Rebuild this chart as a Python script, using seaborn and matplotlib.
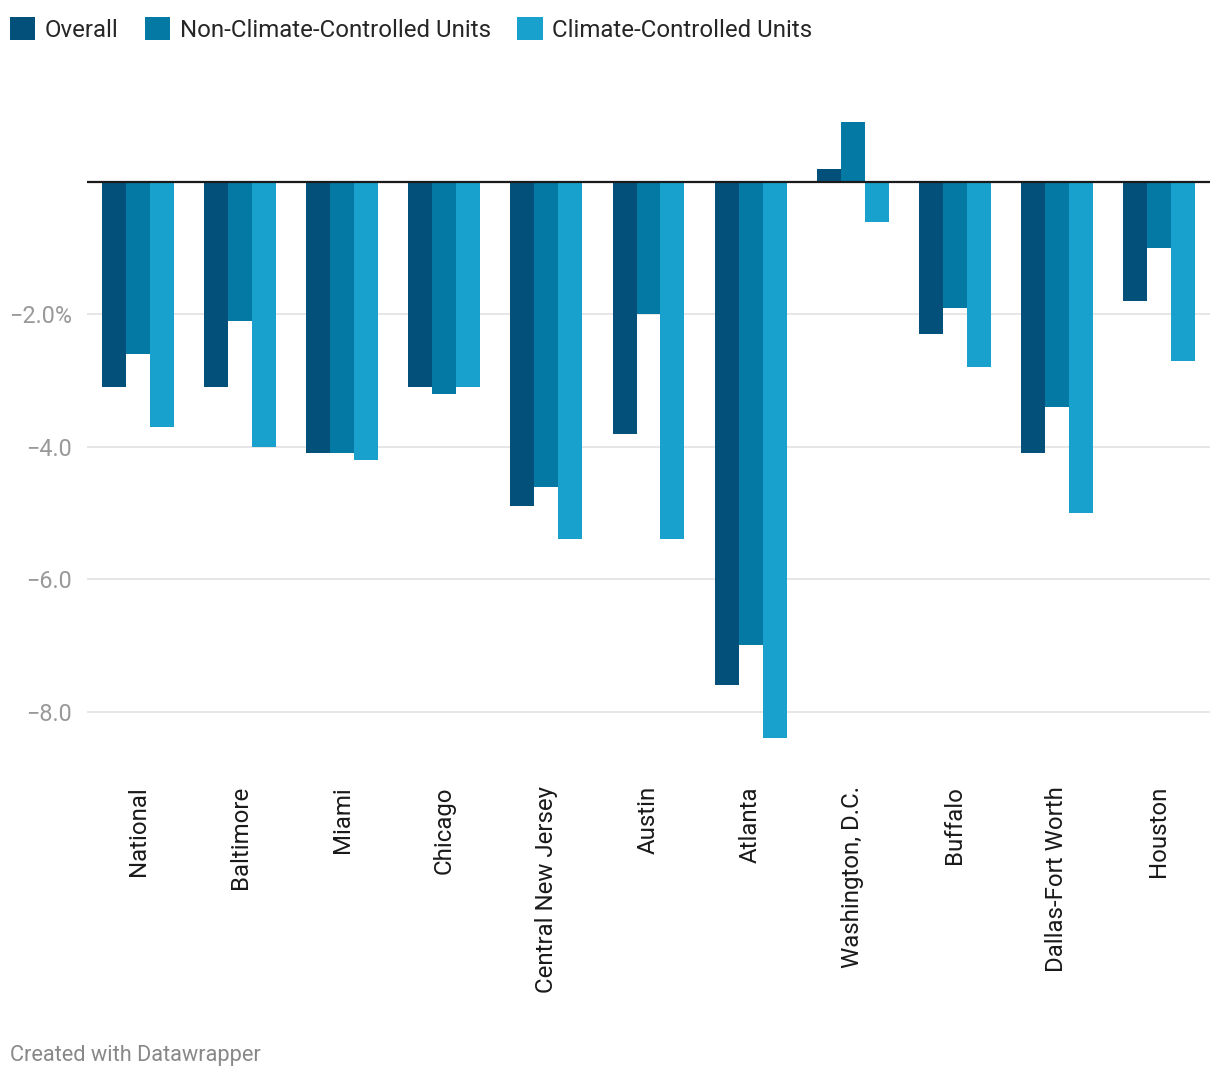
import matplotlib
matplotlib.use("Agg")
import matplotlib.pyplot as plt
import seaborn as sns
import pandas as pd
from matplotlib.patches import Patch

categories = ["National", "Baltimore", "Miami", "Chicago", "Central New Jersey", "Austin",
              "Atlanta", "Washington, D.C.", "Buffalo", "Dallas-Fort Worth", "Houston"]
overall = [-3.1, -3.1, -4.1, -3.1, -4.9, -3.8, -7.6, 0.2, -2.3, -4.1, -1.8]
non_climate = [-2.6, -2.1, -4.1, -3.2, -4.6, -2.0, -7.0, 0.9, -1.9, -3.4, -1.0]
climate = [-3.7, -4.0, -4.2, -3.1, -5.4, -5.4, -8.4, -0.6, -2.8, -5.0, -2.7]
series_names = ["Overall", "Non-Climate-Controlled Units", "Climate-Controlled Units"]
colors = ["#03517a", "#0479a4", "#18a1cd"]
ytick_vals = [-2, -4, -6, -8]
ytick_labels = ["\u22122.0%", "\u22124.0", "\u22126.0", "\u22128.0"]

rows = []
for name, vals in zip(series_names, [overall, non_climate, climate]):
    for c, v in zip(categories, vals):
        rows.append({"city": c, "series": name, "value": v})
df = pd.DataFrame(rows)

sns.set_style("white")
plt.rcParams["font.family"] = ["Roboto", "DejaVu Sans"]

fig = plt.figure(figsize=(12.2, 10.8), dpi=100)
ax = fig.add_axes([87/1220, 1 - 775/1080, (1210-87)/1220, (775-60)/1080])

sns.barplot(data=df, x="city", y="value", hue="series", order=categories,
            hue_order=series_names, palette=colors, saturation=1, width=0.705,
            dodge=True, gap=0, ax=ax, legend=False, errorbar=None,
            linewidth=0, edgecolor="none")

ax.set_xlim(-0.5, 10.5)
ax.set_ylim(-(775-182)/66.2, (182-60)/66.2)
ax.set_yticks(ytick_vals)
ax.set_yticklabels(ytick_labels, color="#999999", fontsize=16.8)
for y in ytick_vals:
    ax.axhline(y, color="#e2e2e2", lw=1.2, zorder=0)
ax.axhline(0, color="#1a1a1a", lw=1.6, zorder=5)
ax.tick_params(axis="y", length=0, pad=11)
ax.tick_params(axis="x", length=0, pad=8)
ax.set_xticks(range(len(categories)))
ax.set_xticklabels(categories, rotation=90, fontsize=17.3, color="#1a1a1a", va="top")
ax.set_xlabel("")
ax.set_ylabel("")
for s in ax.spines.values():
    s.set_visible(False)

handles = [Patch(facecolor=c, edgecolor="none") for c in colors]
fig.legend(handles, series_names, loc="upper left", bbox_to_anchor=(0.0, 1 - 7/1080),
           ncol=3, frameon=False, fontsize=17.3, handlelength=1.05, handleheight=1.15,
           handletextpad=0.41, columnspacing=1.1, borderaxespad=0.0, borderpad=0.4)

fig.text(10/1220, 1 - 1055/1080, "Created with Datawrapper", color="#888888",
         fontsize=15.7, va="center", ha="left")

fig.savefig("out.png", dpi=100)
